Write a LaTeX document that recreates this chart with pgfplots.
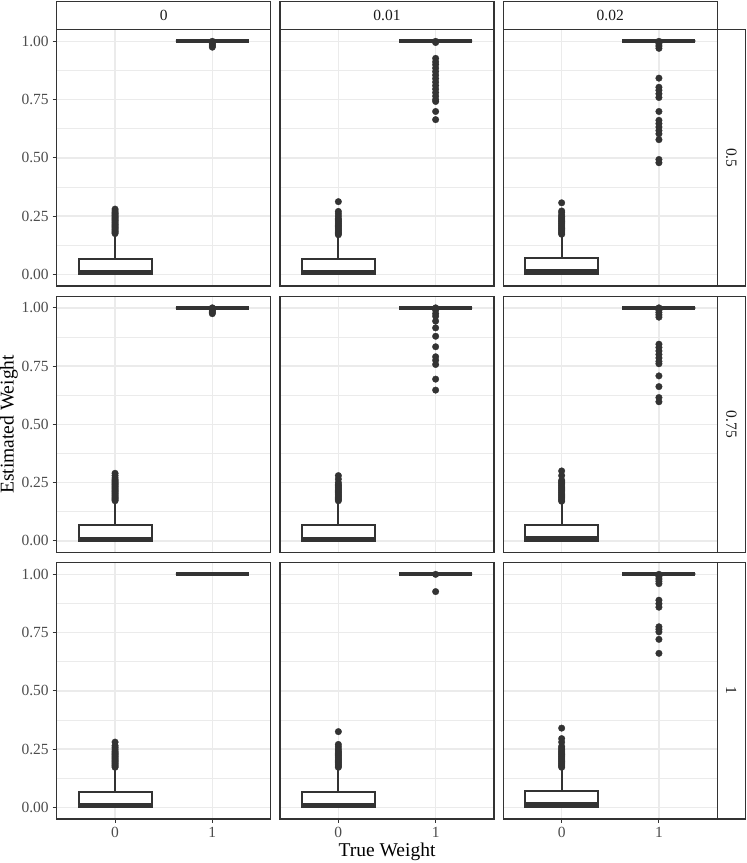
\documentclass[border=0pt]{standalone}
\usepackage{fontspec}
\setmainfont{Liberation Serif}
\usepackage{pgfplots}
\pgfplotsset{compat=1.18}
\usepgfplotslibrary{statistics}
\definecolor{g10}{HTML}{1A1A1A}
\definecolor{g20}{HTML}{333333}
\definecolor{g30}{HTML}{4D4D4D}
\definecolor{g92}{HTML}{EBEBEB}
\pgfplotsset{
 panel/.style={
  scale only axis, width=214pt, height=256.3pt, anchor=south west,
  xmin=-0.6, xmax=1.6, ymin=-0.05, ymax=1.05,
  xtick={0,1}, xticklabels={0,1},
  ytick={0,0.25,0.5,0.75,1}, yticklabels={0.00,0.25,0.50,0.75,1.00},
  minor ytick={0.125,0.375,0.625,0.875},
  grid=both,
  major grid style={g92, line width=1.4pt},
  minor grid style={g92, line width=0.8pt},
  axis line style={g20, line width=1.1pt},
  tick pos=left, tick align=outside, major tick length=4pt, minor tick length=0pt,
  tick style={g20, line width=1.1pt},
  ticklabel style={font=\fontsize{15.5}{16}\selectfont, text=g30},
  /pgf/number format/assume math mode=true,
  xticklabel style={yshift=-0.5pt},
  yticklabel style={xshift=-0.5pt},
 },
 noxl/.style={xticklabels={}, xtick style={draw=none}},
 noyl/.style={yticklabels={}, ytick style={draw=none}},
 bx/.style={solid, g20, line width=2pt, fill=white, mark=none,
  boxplot/draw direction=y,
  boxplot/box extend=0.75, boxplot/whisker extend=0,
  boxplot/every median/.style={line width=4pt}},
 out/.style={only marks, mark=*, mark size=3.3pt, g20, fill=g20, line width=0.3pt},
}
\begin{document}
\begin{tikzpicture}
\useasboundingbox (0,0) rectangle (747pt,863pt);
% ---------- Row 1 (0.5) ----------
\begin{axis}[panel, noxl, at={(56.7pt,577pt)}]
\addplot[out] coordinates {(0,0.175)(0,0.18)(0,0.185)(0,0.19)(0,0.195)(0,0.2)(0,0.205)(0,0.21)(0,0.215)(0,0.22)(0,0.225)(0,0.23)(0,0.235)(0,0.24)(0,0.245)(0,0.25)(0,0.255)(0,0.26)(0,0.265)(0,0.272)(0,0.28)};
\addplot[bx, boxplot prepared={draw position=0, lower whisker=0, lower quartile=0, median=0.008, upper quartile=0.068, upper whisker=0.168}] coordinates {};
\addplot[bx, boxplot prepared={draw position=1, lower whisker=1, lower quartile=1, median=1, upper quartile=1, upper whisker=1}] coordinates {};
\addplot[out] coordinates {(1,0.975)(1,0.98)(1,0.985)(1,0.99)(1,0.995)(1,1)};
\end{axis}
\begin{axis}[panel, noxl, noyl, at={(280pt,577pt)}]
\addplot[out] coordinates {(0,0.17)(0,0.175)(0,0.18)(0,0.185)(0,0.19)(0,0.195)(0,0.2)(0,0.205)(0,0.21)(0,0.215)(0,0.22)(0,0.225)(0,0.23)(0,0.235)(0,0.24)(0,0.25)(0,0.26)(0,0.27)(0,0.312)};
\addplot[bx, boxplot prepared={draw position=0, lower whisker=0, lower quartile=0, median=0.008, upper quartile=0.066, upper whisker=0.163}] coordinates {};
\addplot[bx, boxplot prepared={draw position=1, lower whisker=1, lower quartile=1, median=1, upper quartile=1, upper whisker=1}] coordinates {};
\addplot[out] coordinates {(1,1)(1,0.995)(1,0.927)(1,0.912)(1,0.9)(1,0.885)(1,0.87)(1,0.855)(1,0.84)(1,0.825)(1,0.81)(1,0.795)(1,0.78)(1,0.765)(1,0.75)(1,0.742)(1,0.699)(1,0.664)};
\end{axis}
\begin{axis}[panel, noxl, noyl, at={(503.3pt,577pt)}]
\addplot[out] coordinates {(0,0.172)(0,0.177)(0,0.182)(0,0.187)(0,0.192)(0,0.197)(0,0.202)(0,0.207)(0,0.212)(0,0.217)(0,0.222)(0,0.227)(0,0.232)(0,0.237)(0,0.242)(0,0.248)(0,0.255)(0,0.265)(0,0.272)(0,0.307)};
\addplot[bx, boxplot prepared={draw position=0, lower whisker=0, lower quartile=0, median=0.013, upper quartile=0.07, upper whisker=0.165}] coordinates {};
\addplot[bx, boxplot prepared={draw position=1, lower whisker=1, lower quartile=1, median=1, upper quartile=1, upper whisker=1}] coordinates {};
\addplot[out] coordinates {(1,1)(1,0.99)(1,0.98)(1,0.97)(1,0.842)(1,0.803)(1,0.79)(1,0.775)(1,0.759)(1,0.699)(1,0.661)(1,0.647)(1,0.632)(1,0.617)(1,0.603)(1,0.578)(1,0.493)(1,0.479)};
\end{axis}
% ---------- Row 2 (0.75) ----------
\begin{axis}[panel, noxl, at={(56.7pt,310.5pt)}]
\addplot[out] coordinates {(0,0.172)(0,0.177)(0,0.182)(0,0.187)(0,0.192)(0,0.197)(0,0.202)(0,0.207)(0,0.212)(0,0.217)(0,0.222)(0,0.227)(0,0.232)(0,0.237)(0,0.242)(0,0.247)(0,0.252)(0,0.257)(0,0.262)(0,0.27)(0,0.28)(0,0.29)};
\addplot[bx, boxplot prepared={draw position=0, lower whisker=0, lower quartile=0, median=0.009, upper quartile=0.067, upper whisker=0.162}] coordinates {};
\addplot[bx, boxplot prepared={draw position=1, lower whisker=1, lower quartile=1, median=1, upper quartile=1, upper whisker=1}] coordinates {};
\addplot[out] coordinates {(1,0.975)(1,0.98)(1,0.985)(1,0.99)(1,0.995)(1,1)};
\end{axis}
\begin{axis}[panel, noxl, noyl, at={(280pt,310.5pt)}]
\addplot[out] coordinates {(0,0.172)(0,0.177)(0,0.182)(0,0.187)(0,0.192)(0,0.197)(0,0.202)(0,0.207)(0,0.212)(0,0.217)(0,0.222)(0,0.227)(0,0.232)(0,0.237)(0,0.242)(0,0.25)(0,0.265)(0,0.28)};
\addplot[bx, boxplot prepared={draw position=0, lower whisker=0, lower quartile=0, median=0.009, upper quartile=0.066, upper whisker=0.164}] coordinates {};
\addplot[bx, boxplot prepared={draw position=1, lower whisker=1, lower quartile=1, median=1, upper quartile=1, upper whisker=1}] coordinates {};
\addplot[out] coordinates {(1,1)(1,0.99)(1,0.975)(1,0.964)(1,0.943)(1,0.914)(1,0.878)(1,0.833)(1,0.79)(1,0.775)(1,0.757)(1,0.694)(1,0.647)};
\end{axis}
\begin{axis}[panel, noxl, noyl, at={(503.3pt,310.5pt)}]
\addplot[out] coordinates {(0,0.17)(0,0.175)(0,0.18)(0,0.185)(0,0.19)(0,0.195)(0,0.2)(0,0.205)(0,0.21)(0,0.215)(0,0.22)(0,0.225)(0,0.23)(0,0.235)(0,0.24)(0,0.245)(0,0.25)(0,0.255)(0,0.26)(0,0.28)(0,0.3)};
\addplot[bx, boxplot prepared={draw position=0, lower whisker=0, lower quartile=0, median=0.013, upper quartile=0.07, upper whisker=0.163}] coordinates {};
\addplot[bx, boxplot prepared={draw position=1, lower whisker=1, lower quartile=1, median=1, upper quartile=1, upper whisker=1}] coordinates {};
\addplot[out] coordinates {(1,1)(1,0.99)(1,0.98)(1,0.97)(1,0.96)(1,0.844)(1,0.83)(1,0.815)(1,0.8)(1,0.785)(1,0.77)(1,0.76)(1,0.708)(1,0.662)(1,0.615)(1,0.597)};
\end{axis}
% ---------- Row 3 (1) ----------
\begin{axis}[panel, at={(56.7pt,44pt)}]
\addplot[out] coordinates {(0,0.172)(0,0.177)(0,0.182)(0,0.187)(0,0.192)(0,0.197)(0,0.202)(0,0.207)(0,0.212)(0,0.217)(0,0.222)(0,0.227)(0,0.232)(0,0.237)(0,0.242)(0,0.25)(0,0.258)(0,0.265)(0,0.28)};
\addplot[bx, boxplot prepared={draw position=0, lower whisker=0, lower quartile=0, median=0.008, upper quartile=0.068, upper whisker=0.164}] coordinates {};
\addplot[bx, boxplot prepared={draw position=1, lower whisker=1, lower quartile=1, median=1, upper quartile=1, upper whisker=1}] coordinates {};
\end{axis}
\begin{axis}[panel, noyl, at={(280pt,44pt)}]
\addplot[out] coordinates {(0,0.172)(0,0.177)(0,0.182)(0,0.187)(0,0.192)(0,0.197)(0,0.202)(0,0.207)(0,0.212)(0,0.217)(0,0.222)(0,0.227)(0,0.232)(0,0.237)(0,0.242)(0,0.25)(0,0.26)(0,0.27)(0,0.325)};
\addplot[bx, boxplot prepared={draw position=0, lower whisker=0, lower quartile=0, median=0.008, upper quartile=0.066, upper whisker=0.164}] coordinates {};
\addplot[bx, boxplot prepared={draw position=1, lower whisker=1, lower quartile=1, median=1, upper quartile=1, upper whisker=1}] coordinates {};
\addplot[out] coordinates {(1,1)(1,0.926)};
\end{axis}
\begin{axis}[panel, noyl, at={(503.3pt,44pt)}]
\addplot[out] coordinates {(0,0.172)(0,0.177)(0,0.182)(0,0.187)(0,0.192)(0,0.197)(0,0.202)(0,0.207)(0,0.212)(0,0.217)(0,0.222)(0,0.227)(0,0.232)(0,0.237)(0,0.242)(0,0.248)(0,0.255)(0,0.262)(0,0.28)(0,0.295)(0,0.34)};
\addplot[bx, boxplot prepared={draw position=0, lower whisker=0, lower quartile=0, median=0.014, upper quartile=0.071, upper whisker=0.165}] coordinates {};
\addplot[bx, boxplot prepared={draw position=1, lower whisker=1, lower quartile=1, median=1, upper quartile=1, upper whisker=1}] coordinates {};
\addplot[out] coordinates {(1,1)(1,0.99)(1,0.98)(1,0.97)(1,0.96)(1,0.889)(1,0.874)(1,0.859)(1,0.775)(1,0.764)(1,0.753)(1,0.721)(1,0.661)};
\end{axis}
% ---------- Strips ----------
\begin{scope}[every node/.style={font=\fontsize{15.5}{16}\selectfont, text=g10}]
\draw[g20, line width=1.1pt, fill=white] (56.7pt,833.3pt) rectangle (270.7pt,861.3pt);
\node at (163.7pt,847.3pt) {0};
\draw[g20, line width=1.1pt, fill=white] (280pt,833.3pt) rectangle (494pt,861.3pt);
\node at (387pt,847.3pt) {0.01};
\draw[g20, line width=1.1pt, fill=white] (503.3pt,833.3pt) rectangle (717.3pt,861.3pt);
\node at (610.3pt,847.3pt) {0.02};
\draw[g20, line width=1.1pt, fill=white] (717.3pt,577pt) rectangle (745.3pt,833.3pt);
\node[rotate=-90] at (731.3pt,705.15pt) {0.5};
\draw[g20, line width=1.1pt, fill=white] (717.3pt,310.5pt) rectangle (745.3pt,566.8pt);
\node[rotate=-90] at (731.3pt,438.65pt) {0.75};
\draw[g20, line width=1.1pt, fill=white] (717.3pt,44pt) rectangle (745.3pt,300.3pt);
\node[rotate=-90] at (731.3pt,172.15pt) {1};
\end{scope}
% ---------- Axis titles ----------
\node[font=\fontsize{19.5}{21}\selectfont, rotate=90] at (9pt,438.6pt) {Estimated Weight};
\node[font=\fontsize{19.5}{21}\selectfont] at (387pt,11pt) {True Weight};
\end{tikzpicture}
\end{document}
